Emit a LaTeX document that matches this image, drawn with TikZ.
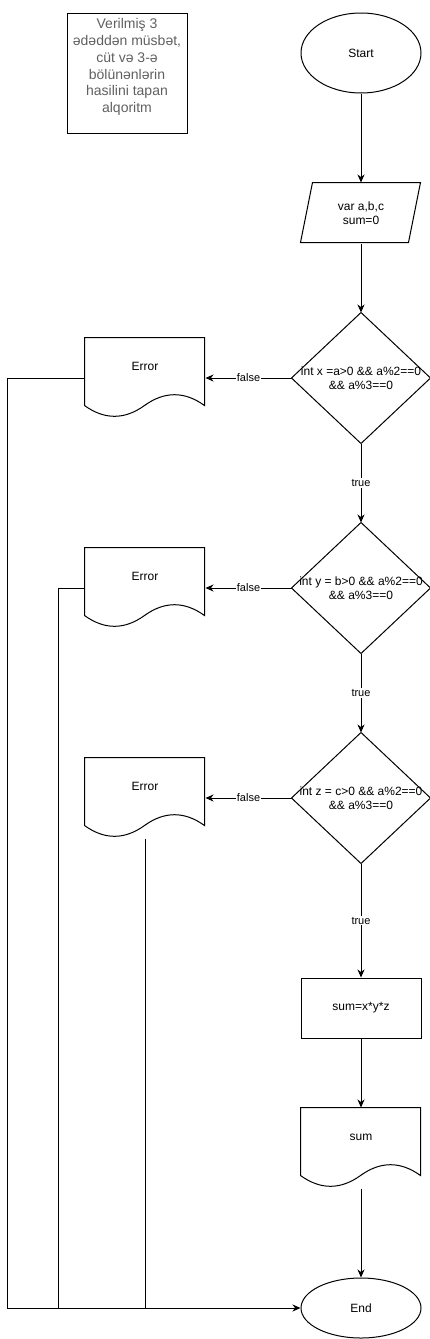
\documentclass[tikz,border=0pt]{standalone}
\usepackage{fontspec}
\setmainfont{Liberation Sans}
\usetikzlibrary{arrows.meta,shapes.geometric,calc}
\definecolor{titlegray}{RGB}{96,96,96}
\tikzset{
  base/.style={inner sep=0pt, font=\fontsize{12}{14.4}\selectfont, line width=1pt},
  term/.style={base, draw, ellipse, minimum width=120pt},
  box/.style={base, draw, rectangle, minimum width=120pt, minimum height=60pt},
  shapeonly/.style={base, draw=none, rectangle, align=center},
  docbox/.style={base, draw=none, rectangle, minimum width=120pt, minimum height=80pt, text height=9pt, text depth=25pt},
  lbl/.style={font=\fontsize{11}{13}\selectfont, fill=white, inner sep=1pt},
  arr/.style={line width=1pt, -{Stealth[length=8pt,width=7pt,inset=2.5pt]}},
  wire/.style={line width=1pt},
}
\newcommand\docout[1]{%
  \begin{scope}[shift={(#1.north west)}]
    \draw[wire] (0,0) -- (120,0) -- (120,68) .. controls (100,53.6) and (80,53.6) .. (60,68)
      .. controls (40,82.4) and (20,82.4) .. (0,68) -- cycle;
  \end{scope}}
\newcommand\dmdout[1]{%
  \draw[wire] (#1.north) -- (#1.east) -- (#1.south) -- (#1.west) -- cycle;}
\newcommand\parout[1]{%
  \begin{scope}[shift={(#1.north west)}]
    \draw[wire] (12,0) -- (120,0) -- (108,60) -- (0,60) -- cycle;
  \end{scope}}
\begin{document}
\begin{tikzpicture}[x=1pt,y=-1pt]
\useasboundingbox (0,0) rectangle (430,1339);
% title
\node[base, draw, rectangle, minimum width=120pt, minimum height=120pt] (tbox) at (127,73) {};
\node[base, align=center, text=titlegray, font=\fontsize{14}{16.8}\selectfont] (title) at (127,67)
  {Verilmiş 3\\ədəddən müsbət,\\cüt və 3-ə\\bölünənlərin\\hasilini tapan\\alqoritm};
% flow
\node[term, minimum height=80pt] (start) at (361,53) {Start};
\node[shapeonly, minimum width=120pt, minimum height=60pt] (in) at (361,213) {var a,b,c\\sum=0};
\parout{in}
\node[shapeonly, minimum width=138pt, minimum height=130pt] (d1) at (361,378) {int x =a>0 \&\& a\%2==0\\\&\& a\%3==0};
\dmdout{d1}
\node[shapeonly, minimum width=138pt, minimum height=130pt] (d2) at (361,588) {int y = b>0 \&\& a\%2==0\\\&\& a\%3==0};
\dmdout{d2}
\node[shapeonly, minimum width=138pt, minimum height=130pt] (d3) at (361,798) {int z = c>0 \&\& a\%2==0\\\&\& a\%3==0};
\dmdout{d3}
\node[docbox] (e1) at (145,378) {Error};
\docout{e1}
\node[docbox] (e2) at (145,588) {Error};
\docout{e2}
\node[docbox] (e3) at (145,798) {Error};
\docout{e3}
\node[box] (proc) at (361,1008) {sum=x*y*z};
\node[docbox] (out) at (361,1148) {sum};
\docout{out}
\node[term, minimum height=60pt] (end) at (361,1308) {End};
\coordinate (c1) at (7,1308);
\coordinate (c2) at (58,1308);
% connectors
\draw[arr] (start) -- (in);
\draw[arr] (in) -- (d1);
\draw[arr] (d1.west) -- (d1.west -| e1.east) node[lbl, midway] {false};
\draw[arr] (d1.south) -- (d2.north) node[lbl, midway] {true};
\draw[arr] (d2.west) -- (d2.west -| e2.east) node[lbl, midway] {false};
\draw[arr] (d2.south) -- (d3.north) node[lbl, midway] {true};
\draw[arr] (d3.west) -- (d3.west -| e3.east) node[lbl, midway] {false};
\draw[arr] (d3.south) -- (proc.north) node[lbl, midway] {true};
\draw[arr] (proc) -- (out);
\draw[arr] (out.south) -- (end.north);
\draw[arr] (e1.west) -| (c1) -- (end.west);
\draw[wire] (e2.west) -| (c2);
\draw[wire] (e3.south) -- (e3.south |- end.west);
\end{tikzpicture}
\end{document}
